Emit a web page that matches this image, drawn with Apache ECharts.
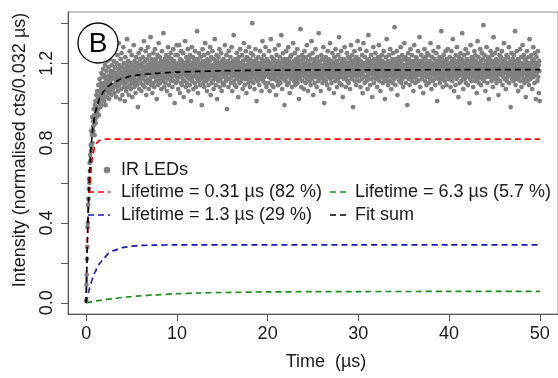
<!DOCTYPE html>
<html>
<head>
<meta charset="utf-8">
<script src="https://cdn.jsdelivr.net/npm/echarts@6/dist/echarts.min.js"></script>
<style>html,body{margin:0;padding:0;background:#fff}#c{width:558px;height:378px}</style>
</head>
<body>
<div id="c"></div>
<script>
// ---- data ----
const timeStep = 0.032; // µs per bin
// measured intensities (normalised cts / 0.032 µs), consecutive bins starting at t = 0
const intensityRise = [
0.01,0.09,0.14,0.22,0.28,0.38,0.40,0.49,0.52,0.57,0.62,0.60,0.70,0.66,0.74,0.71,0.79,0.76,0.86,0.78,
0.84,0.93,0.80,0.88,0.91,0.86,0.97,0.89,0.94,0.84,0.99,0.92,1.01,0.90,0.96,1.04,0.93,0.98,1.06,0.95,
1.03,0.97,1.09,1.01,0.94,1.06,1.12,1.00,1.04,0.98,1.10,1.07,1.15,0.99,1.03,1.08,1.13,1.02,1.05,1.17,
1.04,1.10,1.01,1.14,1.08,1.19,1.06,0.99,1.12,1.09,1.16,1.03,1.11,1.21,1.07,1.13,1.05,1.18,1.10,1.02,
1.14,1.08,1.22,1.11,1.06,1.16,1.12,1.04,1.19,1.09,1.13,1.25,1.07,1.15];
const intensity3to10 = [
1.16,1.09,1.21,1.12,1.05,1.18,1.14,1.27,1.10,1.03,1.15,1.20,1.08,1.13,1.24,1.11,1.06,1.17,1.30,1.12,
1.09,1.19,1.14,1.02,1.16,1.22,1.11,1.07,1.25,1.13,1.18,1.04,1.15,1.10,1.28,1.12,1.20,1.08,1.16,1.01,
1.14,1.23,1.10,1.17,1.06,1.19,1.13,1.32,1.11,1.15,1.08,1.21,1.16,1.04,1.18,1.12,1.26,1.09,1.14,1.20,
1.07,1.15,1.11,1.24,1.17,1.03,1.13,1.19,1.10,1.16,1.29,1.12,1.08,1.21,1.14,1.18,1.05,1.15,1.23,1.11,
1.17,1.09,1.20,1.14,0.98,1.16,1.12,1.25,1.19,1.07,1.13,1.22,1.15,1.10,1.18,1.27,1.06,1.14,1.20,1.12,
1.16,1.23,1.09,1.18,1.13,1.31,1.15,1.08,1.21,1.17,1.11,1.26,1.14,1.04,1.19,1.16,1.22,1.10,1.15,1.28,
1.12,1.18,1.07,1.24,1.15,1.20,1.11,1.17,1.33,1.14,1.09,1.19,1.22,1.13,1.05,1.18,1.16,1.25,1.10,1.21,
1.15,1.08,1.19,1.27,1.13,1.17,1.22,1.11,1.16,1.02,1.20,1.14,1.24,1.18,1.09,1.15,1.30,1.12,1.19,1.16,
1.23,1.10,1.17,1.13,1.21,1.07,1.18,1.26,1.14,1.19,1.11,1.16,1.35,1.12,1.20,1.08,1.17,1.22,1.15,1.10,
1.19,1.24,1.13,1.17,1.06,1.21,1.16,1.12,1.28,1.15,1.18,1.09,1.23,1.14,1.20,1.04,1.17,1.25,1.11,1.16,
1.22,1.13,1.18,1.08,1.20,1.15,1.27,1.11,1.17,1.21,1.14,1.00,1.19,1.16,1.24,1.10,1.18,1.13,1.29];
const intensity10to20 = [
1.18,1.11,1.24,1.15,1.07,1.20,1.16,1.29,1.13,1.19,1.05,1.22,1.17,1.10,1.26,1.14,1.19,1.09,1.21,1.16,
1.12,1.25,1.18,1.03,1.15,1.20,1.11,1.17,1.31,1.14,1.08,1.19,1.23,1.16,1.10,1.21,1.13,1.27,1.18,1.06,
1.15,1.22,1.12,1.19,1.09,1.24,1.17,1.14,1.01,1.20,1.16,1.28,1.11,1.18,1.13,1.23,1.07,1.16,1.21,1.14,
1.19,1.10,1.26,1.15,1.20,1.08,1.17,1.13,1.22,1.36,1.12,1.18,1.05,1.21,1.16,1.11,1.25,1.14,1.19,1.09,
1.17,1.23,1.13,1.20,1.15,0.99,1.18,1.12,1.27,1.16,1.21,1.10,1.14,1.24,1.08,1.19,1.15,1.30,1.13,1.17,
1.11,1.20,1.16,1.06,1.22,1.14,1.18,1.25,1.12,1.09,1.19,1.15,1.21,1.13,1.28,1.17,1.04,1.16,1.23,1.10,
1.18,1.14,1.26,1.11,1.19,1.16,1.07,1.22,1.13,1.17,1.32,1.15,1.20,1.09,1.18,1.12,1.24,1.16,1.02,1.21,
1.14,1.19,1.11,1.23,1.17,1.13,1.27,1.08,1.16,1.20,1.12,1.18,1.25,1.15,1.06,1.21,1.17,1.10,1.19,1.14,
1.22,1.16,1.09,1.18,1.13,1.29,1.15,1.20,1.11,1.17,1.24,1.14,0.97,1.19,1.12,1.21,1.16,1.08,1.26,1.15,
1.18,1.12,1.20,1.15,1.23,1.10,1.17,1.13,1.28,1.19,1.06,1.16,1.21,1.14,1.18,1.34,1.11,1.20,1.15,1.09,
1.17,1.22,1.13,1.19,1.08,1.16,1.25,1.12,1.18,1.14,1.21,1.03,1.17,1.23,1.15,1.10,1.19,1.27,1.13,1.16,
1.20,1.11,1.18,1.14,1.24,1.16,1.07,1.21,1.13,1.17,1.30,1.15,1.19,1.09,1.22,1.12,1.18,1.26,1.14,1.05,
1.16,1.23,1.12,1.19,1.15,1.21,1.10,1.17,1.28,1.13,1.18,1.08,1.22,1.16,1.14,1.25,1.11,1.20,1.15,1.40,
1.13,1.18,1.24,1.10,1.16,1.21,1.14,1.07,1.19,1.15,1.27,1.12,1.17,1.22,1.01,1.18,1.14,1.20,1.11,1.16,
1.23,1.15,1.19,1.09,1.17,1.13,1.26,1.18,1.12,1.20,1.15,1.06,1.22,1.16,1.31,1.14,1.19,1.11,1.18,1.24,
1.13,1.17,1.21,1.10,1.16,1.28,1.14,1.19,1.08,1.22,1.15,1.18];
const intensity20to30 = [
1.15,1.21,1.10,1.18,1.13,1.26,1.16,1.06,1.20,1.14,1.19,1.32,1.12,1.17,1.23,1.09,1.16,1.21,1.14,1.18,
1.08,1.22,1.15,1.19,1.12,1.27,1.17,1.13,1.20,1.04,1.16,1.24,1.11,1.18,1.15,1.21,1.09,1.17,1.29,1.14,
1.19,1.12,1.23,1.16,1.10,1.20,1.15,1.34,1.13,1.18,1.07,1.21,1.16,1.25,1.12,1.17,1.14,1.22,0.99,1.19,
1.15,1.20,1.11,1.17,1.26,1.13,1.19,1.09,1.22,1.16,1.14,1.28,1.18,1.10,1.21,1.15,1.05,1.19,1.23,1.12,
1.17,1.24,1.14,1.20,1.08,1.16,1.19,1.13,1.30,1.15,1.21,1.11,1.18,1.14,1.25,1.09,1.17,1.22,1.16,1.12,
1.20,1.15,1.27,1.10,1.18,1.13,1.23,1.17,1.02,1.19,1.15,1.21,1.12,1.37,1.16,1.20,1.08,1.18,1.14,1.24,
1.11,1.17,1.22,1.15,1.19,1.07,1.16,1.26,1.13,1.20,1.17,1.10,1.23,1.14,1.18,1.29,1.12,1.16,1.21,1.06,
1.18,1.13,1.20,1.16,1.24,1.11,1.19,1.14,1.09,1.22,1.17,1.31,1.15,1.19,1.12,1.25,1.16,1.04,1.20,1.14,
1.17,1.22,1.10,1.18,1.15,1.27,1.13,1.19,1.21,1.08,1.16,1.23,1.14,1.18,1.11,1.20,1.35,1.15,1.17,1.12,
1.21,1.14,1.19,1.06,1.16,1.24,1.13,1.18,1.22,1.10,1.17,1.15,1.28,1.12,1.19,1.00,1.16,1.21,1.14,1.18,
1.23,1.11,1.17,1.20,1.15,1.09,1.19,1.26,1.13,1.16,1.22,1.18,1.07,1.20,1.14,1.30,1.17,1.12,1.19,1.15,
1.10,1.21,1.16,1.25,1.13,1.18,1.14,1.20,1.05,1.17,1.23,1.15,1.19,1.11,1.27,1.16,1.13,1.21,1.18,1.08,
1.16,1.20,1.12,1.24,1.17,1.14,1.33,1.19,1.10,1.15,1.22,1.13,1.18,1.26,1.16,1.09,1.20,1.14,1.17,1.03,
1.19,1.15,1.22,1.12,1.18,1.28,1.14,1.17,1.21,1.08,1.16,1.20,1.13,1.25,1.17,1.11,1.19,1.15,1.23,1.10,
1.18,1.14,1.20,1.16,1.07,1.22,1.15,1.29,1.12,1.19,1.17,1.24,1.13,1.18,0.98,1.21,1.16,1.14,1.20,1.26,
1.11,1.17,1.22,1.15,1.19,1.09,1.23,1.16,1.13,1.20,1.31,1.14,1.18];
const intensity30to40 = [
1.16,1.22,1.11,1.19,1.14,1.27,1.17,1.08,1.21,1.15,1.18,1.12,1.24,1.16,1.05,1.20,1.14,1.30,1.17,1.13,
1.19,1.10,1.23,1.16,1.20,1.13,1.18,1.26,1.11,1.17,1.21,1.07,1.15,1.19,1.34,1.14,1.22,1.12,1.18,1.16,
1.09,1.20,1.15,1.24,1.17,1.12,1.19,1.03,1.21,1.16,1.14,1.28,1.18,1.10,1.22,1.15,1.19,1.13,1.25,1.17,
1.12,1.18,1.21,1.14,1.08,1.20,1.16,1.23,1.13,1.19,1.29,1.15,1.11,1.17,1.22,1.06,1.18,1.14,1.20,1.16,
1.24,1.13,1.17,1.21,1.10,1.19,1.15,1.26,1.12,1.18,1.14,1.02,1.20,1.16,1.23,1.11,1.17,1.32,1.15,1.19,
1.13,1.21,1.09,1.18,1.16,1.24,1.14,1.19,1.11,1.27,1.17,1.15,1.20,1.07,1.18,1.13,1.22,1.16,1.10,1.25,
1.17,1.14,1.20,1.12,1.38,1.16,1.19,1.09,1.22,1.15,1.18,1.13,1.26,1.17,1.04,1.21,1.14,1.19,1.16,1.23,
1.11,1.18,1.15,1.21,1.13,1.28,1.17,1.10,1.20,1.16,1.24,1.12,1.19,1.14,1.08,1.22,1.17,1.15,1.30,1.13,
1.19,1.16,1.23,1.10,1.18,1.14,1.21,1.17,0.99,1.20,1.15,1.25,1.12,1.18,1.22,1.16,1.09,1.19,1.14,1.27,
1.15,1.20,1.13,1.18,1.24,1.11,1.17,1.21,1.14,1.06,1.19,1.16,1.29,1.13,1.20,1.17,1.10,1.23,1.15,1.18,
1.12,1.22,1.17,1.14,1.19,1.26,1.11,1.16,1.20,1.15,1.33,1.18,1.08,1.21,1.14,1.17,1.24,1.12,1.19,1.16,
1.20,1.13,1.18,1.05,1.22,1.16,1.14,1.27,1.19,1.11,1.17,1.23,1.15,1.20,1.09,1.18,1.13,1.25,1.16,1.21,
1.14,1.19,1.10,1.24,1.17,1.15,1.21,1.12,1.30,1.18,1.16,1.07,1.20,1.14,1.23,1.17,1.11,1.19,1.26,1.15,
1.18,1.12,1.22,1.16,1.09,1.20,1.14,1.19,1.25,1.13,1.17,1.01,1.21,1.15,1.18,1.28,1.12,1.20,1.16,1.23,
1.10,1.17,1.21,1.14,1.19,1.36,1.16,1.12,1.22,1.18,1.08,1.20,1.15,1.24,1.13,1.19,1.17,1.11,1.21,1.16,
1.26,1.14,1.18,1.09,1.22,1.15,1.19,1.13,1.27,1.17,1.20,1.12];
const intensity40to50 = [
1.17,1.12,1.23,1.15,1.20,1.08,1.18,1.14,1.26,1.16,1.21,1.11,1.19,1.32,1.13,1.17,1.22,1.06,1.18,1.15,
1.20,1.14,1.09,1.24,1.16,1.19,1.12,1.28,1.17,1.13,1.21,1.15,1.03,1.18,1.23,1.16,1.10,1.20,1.14,1.25,
1.16,1.19,1.11,1.22,1.15,1.35,1.18,1.13,1.20,1.07,1.17,1.24,1.14,1.19,1.12,1.21,1.16,1.27,1.10,1.18,
1.13,1.22,1.17,1.15,1.25,1.09,1.19,1.14,1.20,1.16,1.00,1.21,1.18,1.12,1.29,1.15,1.19,1.11,1.23,1.17,
1.14,1.20,1.16,1.08,1.22,1.18,1.13,1.26,1.15,1.19,1.11,1.24,1.17,1.21,1.14,1.05,1.19,1.16,1.31,1.12,
1.18,1.23,1.15,1.10,1.20,1.17,1.13,1.27,1.16,1.21,1.09,1.19,1.14,1.25,1.18,1.12,1.22,1.15,1.39,1.17,
1.11,1.19,1.24,1.14,1.18,1.06,1.21,1.16,1.13,1.28,1.17,1.20,1.10,1.15,1.23,1.18,1.14,1.02,1.19,1.22,
1.16,1.13,1.20,1.26,1.15,1.19,1.11,1.17,1.24,1.14,1.21,1.08,1.18,1.33,1.16,1.12,1.20,1.15,1.25,1.19,
1.13,1.17,1.22,1.10,1.18,1.15,1.27,1.12,1.20,1.16,1.04,1.21,1.14,1.19,1.24,1.17,1.11,1.18,1.23,1.15,
1.19,1.14,1.26,1.17,1.09,1.21,1.16,1.13,1.20,1.30,1.15,1.18,1.12,1.22,1.17,1.07,1.19,1.15,1.24,1.11,
1.20,1.16,1.13,1.23,1.18,1.14,1.28,1.10,1.19,1.15,1.21,1.17,0.98,1.20,1.14,1.25,1.16,1.12,1.19,1.22,
1.15,1.18,1.11,1.24,1.16,1.20,1.13,1.36,1.17,1.09,1.21,1.15,1.19,1.26,1.12,1.18,1.14,1.22,1.06,1.17,
1.21,1.13,1.19,1.16,1.27,1.11,1.18,1.15,1.23,1.08,1.20,1.17,1.14,1.29,1.16,1.19,1.12,1.24,1.18,1.10,
1.17,1.22,1.15,1.19,1.03,1.21,1.16,1.13,1.26,1.18,1.11,1.20,1.15,1.23,1.17,1.09,1.19,1.32,1.14,1.18,
1.12,1.20,1.16,1.24,1.14,1.19,1.07,1.22,1.17,1.15,1.28,1.13,1.18,1.21,1.10,1.16,1.25,1.19,1.14,1.02,
1.18,1.23,1.15,1.20,1.11,1.17,1.26,1.13,1.19,1.05,1.21,1.16,1.01];

// fit curves (µs, intensity)
const fitTime  = [0,0.032,0.064,0.096,0.128,0.16,0.2,0.25,0.3,0.4,0.5,0.6,0.75,1,1.25,1.5,2,2.5,3,4,5,6,7.5,10,12.5,15,20,25,30,40,50];
const fitFast  = [0,0.080,0.153,0.218,0.277,0.330,0.390,0.453,0.508,0.594,0.657,0.702,0.747,0.787,0.805,0.814,0.819,0.820,0.82,0.82,0.82,0.82,0.82,0.82,0.82,0.82,0.82,0.82,0.82,0.82,0.82];
const fitMid   = [0,0.0070,0.0139,0.0206,0.0272,0.0336,0.0414,0.0508,0.0597,0.0768,0.0925,0.1073,0.127,0.1557,0.1792,0.1987,0.2277,0.2476,0.2612,0.2766,0.2838,0.2871,0.2891,0.2899,0.29,0.29,0.29,0.29,0.29,0.29,0.29];
const fitSlow  = [0,0.0003,0.0006,0.0009,0.0011,0.0014,0.0018,0.0022,0.0027,0.0035,0.0043,0.0052,0.0064,0.0084,0.0103,0.0121,0.0155,0.0187,0.0216,0.0268,0.0312,0.0350,0.0397,0.0453,0.0492,0.0517,0.0546,0.0559,0.0565,0.0569,0.0570];
const fitSum   = [0,0.087,0.168,0.240,0.305,0.365,0.433,0.506,0.570,0.674,0.754,0.815,0.880,0.951,0.995,1.025,1.062,1.086,1.103,1.123,1.135,1.142,1.149,1.155,1.159,1.162,1.165,1.166,1.166,1.167,1.167];

const xTicks = [0,10,20,30,40,50];
const yTicks = [0,0.2,0.4,0.6,0.8,1.0,1.2,1.4];
const yLabels = [0,0.4,0.8,1.2];

const legendLabels = ['IR LEDs','Lifetime = 0.31 µs (82 %)','Lifetime = 6.3 µs (5.7 %)','Lifetime = 1.3 µs (29 %)','Fit sum'];

// ---- build ----
const allIntensity = [].concat(intensityRise,intensity3to10,intensity10to20,intensity20to30,intensity30to40,intensity40to50);
const scatterData = allIntensity.map((v,i)=>[+(i*timeStep).toFixed(3), v]);
const pair = arr => fitTime.map((t,i)=>[t,arr[i]]);

const FONT = '"Liberation Sans", Arial, Helvetica, sans-serif';
const RED='#ff0000', GREEN='#1e8c1e', BLUE='#1a1aa8', BLACK='#000000', GREY='#808080';
const DASH=[6,4];

function fitLine(name,arr,color){
  return {type:'line',name,data:pair(arr),smooth:0.3,smoothMonotone:'x',showSymbol:false,symbol:'none',
    lineStyle:{color,width:1.7,type:DASH},z:5,silent:true};
}

const chart = echarts.init(document.getElementById('c'),null,{renderer:'canvas'});
const txt = (x,y,text,extra)=>Object.assign({type:'text',x,y,style:{text,fill:'#1a1a1a',font:'18px '+FONT,textAlign:'left',textVerticalAlign:'middle'}},extra||{});
const seg = (x1,x2,y,color)=>({type:'line',shape:{x1,y1:y,x2,y2:y},style:{stroke:color,lineWidth:1.7,lineDash:DASH},z:10});

chart.setOption({
  animation:false,
  backgroundColor:'#fff',
  grid:{left:68,top:12,width:493,height:302,show:true,borderColor:'#8c8c8c',borderWidth:1,containLabel:false},
  xAxis:{type:'value',min:-2,max:52,
    axisLine:{show:true,onZero:false,lineStyle:{color:'#555',width:1}},
    axisTick:{show:true,customValues:xTicks,length:7,lineStyle:{color:'#555'}},
    axisLabel:{customValues:xTicks,fontSize:18,fontFamily:FONT,color:'#1a1a1a',margin:11},
    splitLine:{show:false}},
  yAxis:{type:'value',min:-0.056,max:1.456,
    axisLine:{show:true,onZero:false,lineStyle:{color:'#555',width:1}},
    axisTick:{show:true,customValues:yTicks,length:7,lineStyle:{color:'#555'}},
    axisLabel:{customValues:yLabels,rotate:90,fontSize:18,fontFamily:FONT,color:'#1a1a1a',margin:12,formatter:v=>v.toFixed(1)},
    splitLine:{show:false}},
  series:[
    {type:'scatter',name:'IR LEDs',data:scatterData,symbolSize:4.8,itemStyle:{color:GREY,opacity:1},z:2,silent:true,large:false},
    fitLine('Lifetime = 0.31 µs',fitFast,RED),
    fitLine('Lifetime = 1.3 µs',fitMid,BLUE),
    fitLine('Lifetime = 6.3 µs',fitSlow,GREEN),
    fitLine('Fit sum',fitSum,BLACK)
  ],
  graphic:[
    {type:'circle',shape:{cx:98,cy:43,r:20},style:{fill:'#fff',stroke:'#000',lineWidth:1.3},z:20},
    {type:'text',x:98,y:44,style:{text:'B',font:'28px '+FONT,fill:'#000',textAlign:'center',textVerticalAlign:'middle'},z:21},
    {type:'circle',shape:{cx:107,cy:170,r:3.3},style:{fill:GREY},z:10},
    txt(121,170,legendLabels[0]),
    seg(88,110,192,RED), txt(121,192,legendLabels[1]),
    seg(330,349,192,GREEN), txt(355,192,legendLabels[2]),
    seg(88,110,215,BLUE), txt(121,215,legendLabels[3]),
    seg(330,349,215,BLACK), txt(355,215,legendLabels[4]),
    {type:'text',x:326,y:362,style:{text:'Time  (µs)',font:'18px '+FONT,fill:'#1a1a1a',textAlign:'center',textVerticalAlign:'middle'}},
    {type:'text',x:20,y:150,rotation:Math.PI/2,style:{text:'Intensity (normalised cts/0.032 µs)',font:'18px '+FONT,fill:'#1a1a1a',textAlign:'center',textVerticalAlign:'middle'}}
  ]
});
</script>
</body>
</html>
